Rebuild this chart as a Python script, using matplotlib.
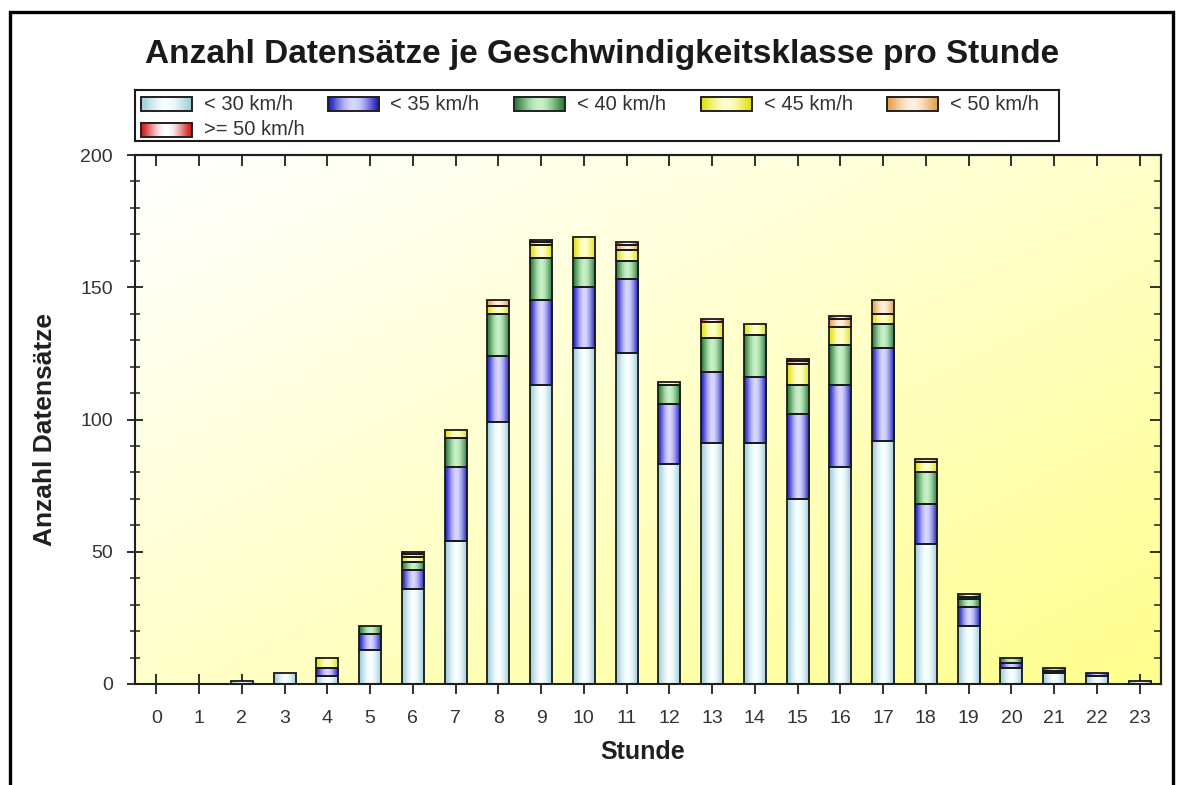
import numpy as np
import matplotlib
matplotlib.use('Agg')
import matplotlib.pyplot as plt
from matplotlib.patches import Rectangle
from matplotlib.ticker import MultipleLocator

plt.rcParams['font.family'] = ['Liberation Sans', 'DejaVu Sans']

# ---------------- data ----------------
hours = list(range(24))
hour_labels = [str(h) for h in hours]
series_labels = ['< 30 km/h', '< 35 km/h', '< 40 km/h', '< 45 km/h', '< 50 km/h', '>= 50 km/h']
lt30 = [0, 0, 1, 4, 3, 13, 36, 54, 99, 113, 127, 125, 83, 91, 91, 70, 82, 92, 53, 22, 6, 4, 3, 1]
lt35 = [0, 0, 0, 0, 3, 6, 7, 28, 25, 32, 23, 28, 23, 27, 25, 32, 31, 35, 15, 7, 2, 1, 1, 0]
lt40 = [0, 0, 0, 0, 0, 3, 3, 11, 16, 16, 11, 7, 7, 13, 16, 11, 15, 9, 12, 3, 2, 1, 0, 0]
lt45 = [0, 0, 0, 0, 4, 0, 2, 3, 3, 5, 8, 4, 1, 6, 4, 8, 7, 4, 4, 0, 0, 0, 0, 0]
lt50 = [0, 0, 0, 0, 0, 0, 1, 0, 2, 1, 0, 2, 0, 0, 0, 1, 3, 5, 1, 1, 0, 0, 0, 0]
ge50 = [0, 0, 0, 0, 0, 0, 1, 0, 0, 1, 0, 1, 0, 1, 0, 1, 1, 0, 0, 1, 0, 0, 0, 0]
series_values = [lt30, lt35, lt40, lt45, lt50, ge50]

# (edge colour, centre colour) of the cylinder-like gradient
series_colors = [
    ((0.62, 0.80, 0.85), (0.97, 1.00, 1.00)),
    ((0.12, 0.12, 0.76), (0.84, 0.84, 1.00)),
    ((0.16, 0.48, 0.22), (0.78, 0.94, 0.78)),
    ((0.88, 0.88, 0.05), (1.00, 1.00, 0.80)),
    ((0.90, 0.62, 0.30), (1.00, 0.94, 0.86)),
    ((0.82, 0.10, 0.10), (1.00, 1.00, 1.00)),
]


def cyl_gradient(edge, center, n=64):
    t = np.linspace(0, 1, n)
    f = np.sin(np.pi * t) ** 1.3
    e = np.array(edge)
    c = np.array(center)
    rgb = e[None, :] + (c - e)[None, :] * f[:, None]
    return rgb[None, :, :]


W, H = 1181, 785
fig = plt.figure(figsize=(W / 100, H / 100), dpi=100)
fig.patch.set_facecolor('white')

ax_l, ax_r, ax_t, ax_b = 135, 1161, 155, 684
ax = fig.add_axes([ax_l / W, 1 - ax_b / H, (ax_r - ax_l) / W, (ax_b - ax_t) / H])

# background gradient: white top-left -> yellow bottom-right
ny, nx = 200, 300
yy, xx = np.mgrid[0:1:ny * 1j, 0:1:nx * 1j]
tt = (xx + yy) / 2.0
tt = np.clip(tt, 0, 1) ** 1.1
white = np.array([1.0, 1.0, 1.0])
yellow = np.array([1.0, 1.0, 0.55])
bg = white[None, None, :] * (1 - tt[..., None]) + yellow[None, None, :] * tt[..., None]
ax.imshow(bg, extent=[0, 1, 0, 1], transform=ax.transAxes, aspect='auto',
          zorder=0, interpolation='bilinear')

bar_w = 0.52
bottom = np.zeros(len(hours))
for vals, (edge, center), lab in zip(series_values, series_colors, series_labels):
    vals = np.array(vals, dtype=float)
    lws = [1.3 if v > 0 else 0 for v in vals]
    bars = ax.bar(hours, vals, width=bar_w, bottom=bottom, facecolor='none',
                  edgecolor='#1a1a1a', linewidth=lws, zorder=3, label=lab)
    grad = cyl_gradient(edge, center)
    for rect, v in zip(bars, vals):
        if v > 0:
            x0 = rect.get_x()
            ax.imshow(grad, extent=[x0, x0 + rect.get_width(), rect.get_y(),
                                    rect.get_y() + rect.get_height()],
                      aspect='auto', zorder=2, interpolation='bilinear')
    bottom += vals

ax.set_xlim(-0.5, 23.5)
ax.set_ylim(0, 200)

ax.set_xticks(hours)
ax.set_xticklabels(hour_labels)
ax.yaxis.set_major_locator(MultipleLocator(50))
ax.yaxis.set_minor_locator(MultipleLocator(10))
tick_col = '#333333'
ax.tick_params(axis='x', which='major', direction='inout', length=14, width=1.3,
               labelsize=14, pad=12, color='#202020', labelcolor=tick_col)
ax.tick_params(axis='y', which='major', direction='inout', length=12, width=1.3,
               labelsize=14, pad=10, color='#202020', labelcolor=tick_col)
ax.tick_params(axis='y', which='minor', direction='inout', length=7, width=1.1,
               color='#202020')
for s in ax.spines.values():
    s.set_linewidth(1.5)
    s.set_color('#202020')

secx = ax.secondary_xaxis('top')
secx.set_xticks(hours)
secx.tick_params(direction='in', length=8, width=1.3, labeltop=False, color='#202020')
secx.spines['top'].set_linewidth(1.5)
secy = ax.secondary_yaxis('right')
secy.yaxis.set_major_locator(MultipleLocator(50))
secy.yaxis.set_minor_locator(MultipleLocator(10))
secy.tick_params(which='major', direction='in', length=8, width=1.3, labelright=False, color='#202020')
secy.tick_params(which='minor', direction='in', length=5, width=1.1, color='#202020')
secy.spines['right'].set_linewidth(1.5)

ax.set_xlabel('Stunde', fontsize=18, fontweight='bold', color='#202020')
ax.xaxis.label.set_va('center')
ax.xaxis.set_label_coords(0.495, (ax_b - 752) / (ax_b - ax_t))
ax.set_ylabel('Anzahl Datensätze', fontsize=19, fontweight='bold', color='#202020')
ax.yaxis.label.set_va('center')
ax.yaxis.set_label_coords((45 - ax_l) / (ax_r - ax_l), (ax_b - 429) / (ax_b - ax_t))

fig.text(602 / W, 1 - 55 / H, 'Anzahl Datensätze je Geschwindigkeitsklasse pro Stunde',
         ha='center', va='center', fontsize=24, fontweight='bold', color='#1a1a1a')

# ---------------- legend box (uniform 5-column grid) ----------------
lg_l, lg_r, lg_t, lg_b = 135, 1059, 90, 141
lax = fig.add_axes([lg_l / W, 1 - lg_b / H, (lg_r - lg_l) / W, (lg_b - lg_t) / H])
lax.set_xlim(lg_l, lg_r)
lax.set_ylim(lg_b, lg_t)
lax.set_xticks([])
lax.set_yticks([])
lax.set_facecolor('white')
for s in lax.spines.values():
    s.set_linewidth(1.5)
    s.set_color('#1a1a1a')
col_x0, col_pitch, row_y0, row_pitch = 141, 186.5, 104, 25.5
hw, hh = 51, 14
for i, (lab, (edge, center)) in enumerate(zip(series_labels, series_colors)):
    col, row = i % 5, i // 5
    x0 = col_x0 + col * col_pitch
    yc = row_y0 + row * row_pitch
    lax.imshow(cyl_gradient(edge, center), extent=[x0, x0 + hw, yc + hh / 2, yc - hh / 2],
               aspect='auto', interpolation='bilinear', zorder=2)
    lax.add_patch(Rectangle((x0, yc - hh / 2), hw, hh, facecolor='none',
                            edgecolor='#202020', linewidth=1.4, zorder=3))
    lax.text(x0 + hw + 12, yc, lab, ha='left', va='center', fontsize=14.5, color='#333333')
lax.set_xlim(lg_l, lg_r)
lax.set_ylim(lg_b, lg_t)

# outer frame
fig.patches.append(Rectangle((10 / W, -0.05), (1173 - 10) / W, 1 - 12 / H + 0.05,
                             transform=fig.transFigure, fill=False, linewidth=2.4,
                             edgecolor='black'))

fig.savefig('out.png', dpi=100)
